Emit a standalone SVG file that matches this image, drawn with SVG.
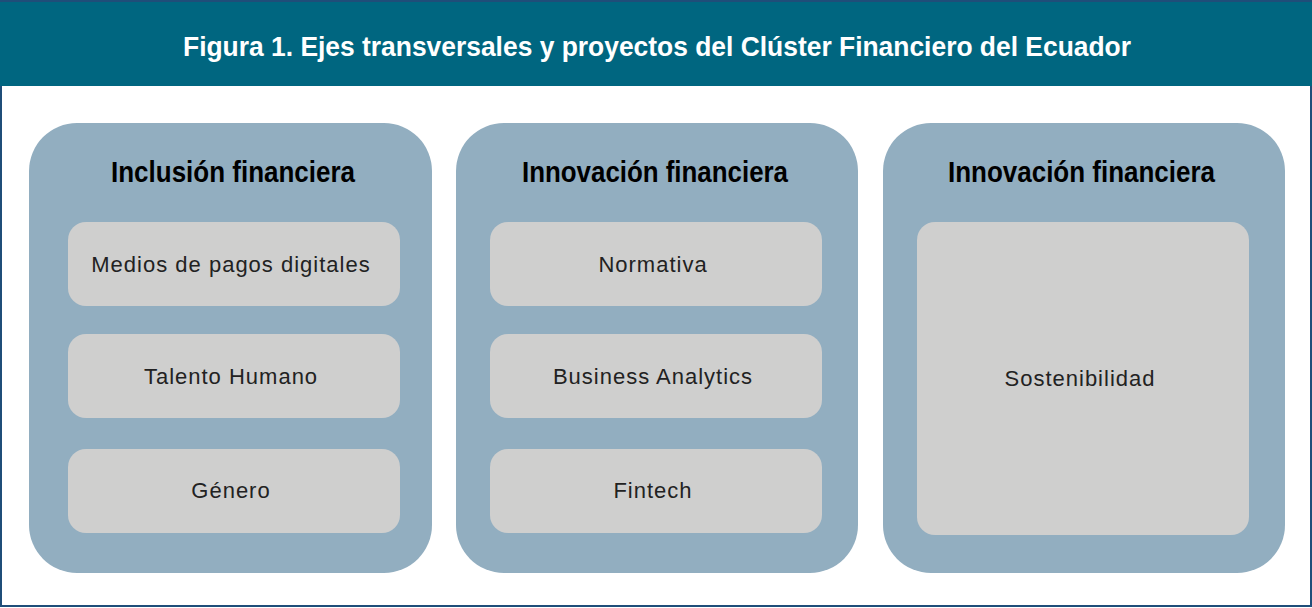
<svg xmlns="http://www.w3.org/2000/svg" width="1312" height="608" viewBox="0 0 1312 608">
<style>
.panel{fill:#92aec0}
.item{fill:#cfcfce}
.title{font-family:"Liberation Sans Narrow","Liberation Sans",Arial,sans-serif;font-weight:bold;fill:#ffffff;font-size:28px}
.ptitle{font-family:"Liberation Sans Narrow","Liberation Sans",Arial,sans-serif;font-weight:bold;fill:#000000;font-size:29px}
.label{font-family:"Liberation Sans",Arial,sans-serif;fill:#222222;font-size:22px;letter-spacing:1px;text-anchor:middle}
</style>
<rect x="0" y="0" width="1312" height="608" fill="#ffffff"/>
<rect x="1" y="1" width="1310" height="605" fill="none" stroke="#1f4e79" stroke-width="2"/>
<rect x="0" y="0" width="1312" height="86" fill="#006680"/>
<line x1="0" y1="1" x2="1312" y2="1" stroke="#1f4e79" stroke-width="2"/>
<text class="title" x="183" y="56" textLength="948" lengthAdjust="spacingAndGlyphs">Figura 1. Ejes transversales y proyectos del Clúster Financiero del Ecuador</text>
<g id="panel-inclusion">
<rect class="panel" x="29" y="123" width="403" height="450" rx="48"/>
<text class="ptitle" x="111" y="182" textLength="244" lengthAdjust="spacingAndGlyphs">Inclusión financiera</text>
</g>
<g id="item-medios"><rect class="item" x="68" y="222" width="332" height="84" rx="18"/><text class="label" x="231" y="272">Medios de pagos digitales</text></g>
<g id="item-talento"><rect class="item" x="68" y="334" width="332" height="84" rx="18"/><text class="label" x="231" y="384">Talento Humano</text></g>
<g id="item-genero"><rect class="item" x="68" y="449" width="332" height="84" rx="18"/><text class="label" x="231" y="498">Género</text></g>
<g id="panel-innovacion-1">
<rect class="panel" x="456" y="123" width="402" height="450" rx="48"/>
<text class="ptitle" x="522" y="182" textLength="266" lengthAdjust="spacingAndGlyphs">Innovación financiera</text>
</g>
<g id="item-normativa"><rect class="item" x="490" y="222" width="332" height="84" rx="18"/><text class="label" x="653" y="272">Normativa</text></g>
<g id="item-business"><rect class="item" x="490" y="334" width="332" height="84" rx="18"/><text class="label" x="653" y="384">Business Analytics</text></g>
<g id="item-fintech"><rect class="item" x="490" y="449" width="332" height="84" rx="18"/><text class="label" x="653" y="498">Fintech</text></g>
<g id="panel-innovacion-2">
<rect class="panel" x="883" y="123" width="402" height="450" rx="48"/>
<text class="ptitle" x="948" y="182" textLength="267" lengthAdjust="spacingAndGlyphs">Innovación financiera</text>
</g>
<g id="item-sostenibilidad"><rect class="item" x="917" y="222" width="332" height="313" rx="18"/><text class="label" x="1080" y="386">Sostenibilidad</text></g>
<g id="connectors"></g>
</svg>
